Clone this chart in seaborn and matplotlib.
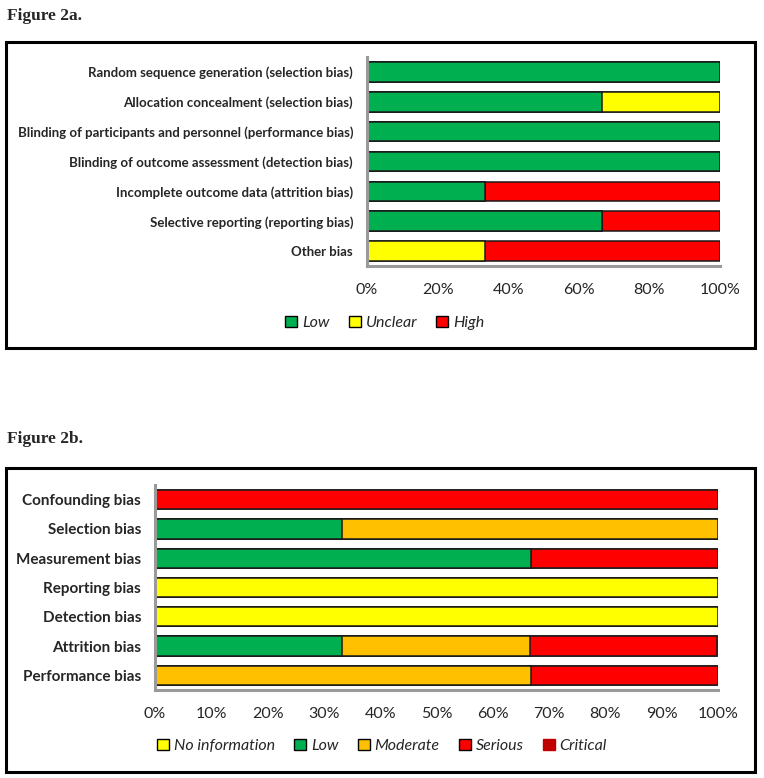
import matplotlib
matplotlib.use("Agg")
import matplotlib.pyplot as plt
import seaborn as sns
import pandas as pd
import numpy as np
from matplotlib.patches import Rectangle, Patch

sns.set_theme(style="white")

# ---------------- data ----------------
cats_a = ["Random sequence generation (selection bias)",
          "Allocation concealment (selection bias)",
          "Blinding of participants and personnel (performance bias)",
          "Blinding of outcome assessment (detection bias)",
          "Incomplete outcome data (attrition bias)",
          "Selective reporting (reporting bias)",
          "Other bias"]
series_a = ["Low", "Unclear", "High"]
low_a = [100, 66.7, 100, 100, 33.3, 66.7, 0]
unclear_a = [0, 33.3, 0, 0, 0, 0, 33.3]
high_a = [0, 0, 0, 0, 66.7, 33.3, 66.7]
colors_a = ["#00B050", "#FFFF00", "#FF0000"]
ticks_a = [0, 20, 40, 60, 80, 100]

cats_b = ["Confounding bias", "Selection bias", "Measurement bias", "Reporting bias",
          "Detection bias", "Attrition bias", "Performance bias"]
series_b = ["No information", "Low", "Moderate", "Serious", "Critical"]
noinfo_b = [0, 0, 0, 100, 100, 0, 0]
low_b = [0, 33.3, 66.7, 0, 0, 33.3, 0]
moderate_b = [0, 66.7, 0, 0, 0, 33.3, 66.7]
serious_b = [100, 0, 33.3, 0, 0, 33.3, 33.3]
critical_b = [0, 0, 0, 0, 0, 0, 0]
colors_b = ["#FFFF00", "#00B050", "#FFC000", "#FF0000", "#C00000"]
ticks_b = [0, 10, 20, 30, 40, 50, 60, 70, 80, 90, 100]

W, H = 764, 778
fig = plt.figure(figsize=(W / 100, H / 100), dpi=100)

label_font = "Lato"
tick_font = "Lato"
GRAY = "#9A9A9A"


def stacked(ax, cats, series, values, colors, ticks, catsize):
    df = pd.DataFrame({"cat": cats})
    for s, v in zip(series, values):
        df[s] = v
    cum = df[series].cumsum(axis=1)
    for i in range(len(series) - 1, -1, -1):
        s = series[i]
        d = pd.DataFrame({"cat": cats, "val": cum[s]})
        sns.barplot(data=d, x="val", y="cat", orient="h", color=colors[i],
                    edgecolor="#1a1a1a", linewidth=1.1, width=0.66, ax=ax,
                    saturation=1, order=cats)
    ax.set_xlim(0, 100)
    ax.set_ylim(len(cats) - 0.5, -0.5)
    ax.set_xlabel("")
    ax.set_ylabel("")
    ax.set_xticks(ticks)
    ax.set_xticklabels([f"{t}%" for t in ticks], fontfamily=tick_font, fontsize=11.5)
    ax.set_yticks(range(len(cats)))
    ax.set_yticklabels(cats, fontfamily=label_font, fontweight="bold", fontsize=catsize)
    ax.set_yticks(np.arange(-0.5, len(cats)), minor=True)
    ax.tick_params(axis="y", which="major", length=0, pad=10)
    ax.tick_params(axis="y", which="minor", length=4, width=2, color=GRAY, direction="out")
    ax.tick_params(axis="x", which="major", length=4, width=2, color=GRAY,
                   direction="out", pad=8)
    for sp in ["top", "right"]:
        ax.spines[sp].set_visible(False)
    for sp in ["left", "bottom"]:
        ax.spines[sp].set_color(GRAY)
        ax.spines[sp].set_linewidth(2.2)
    ax.set_facecolor("none")
    ax.grid(False)


# panel a
ax1 = fig.add_axes([367 / W, 1 - 266 / H, (720 - 367) / W, (266 - 57) / H])
stacked(ax1, cats_a, series_a, [low_a, unclear_a, high_a], colors_a, ticks_a, 9.5)
# panel b
ax2 = fig.add_axes([155 / W, 1 - 690 / H, (718 - 155) / W, (690 - 485) / H])
stacked(ax2, cats_b, series_b, [noinfo_b, low_b, moderate_b, serious_b, critical_b],
        colors_b, ticks_b, 11)

# frames
for (x0, y0, x1, y1) in [(6, 42, 755, 348), (6, 468, 755, 772)]:
    fig.patches.append(Rectangle((x0 / W, 1 - y1 / H), (x1 - x0) / W, (y1 - y0) / H,
                                 transform=fig.transFigure, fill=False,
                                 edgecolor="black", linewidth=2.2))

fig.text(7 / W, 1 - 16 / H, "Figure 2a.", fontfamily="Liberation Serif",
         fontweight="bold", fontsize=12.5, va="center", ha="left")
fig.text(7 / W, 1 - 439 / H, "Figure 2b.", fontfamily="Liberation Serif",
         fontweight="bold", fontsize=12.5, va="center", ha="left")


def legend(series, colors, x, y):
    handles = []
    for s, c in zip(series, colors):
        ec = "black" if c != "#C00000" else c
        handles.append(Patch(facecolor=c, edgecolor=ec, linewidth=1.0, label=s))
    fig.legend(handles=handles, loc="center", bbox_to_anchor=(x / W, 1 - y / H),
               ncol=len(series), frameon=False, handlelength=0.75, handleheight=0.75,
               handletextpad=0.3, columnspacing=1.2,
               prop={"family": tick_font, "style": "italic", "size": 11.5})


legend(series_a, colors_a, 385, 323)
legend(series_b, colors_b, 382, 746)

fig.savefig("out.png", dpi=100)
